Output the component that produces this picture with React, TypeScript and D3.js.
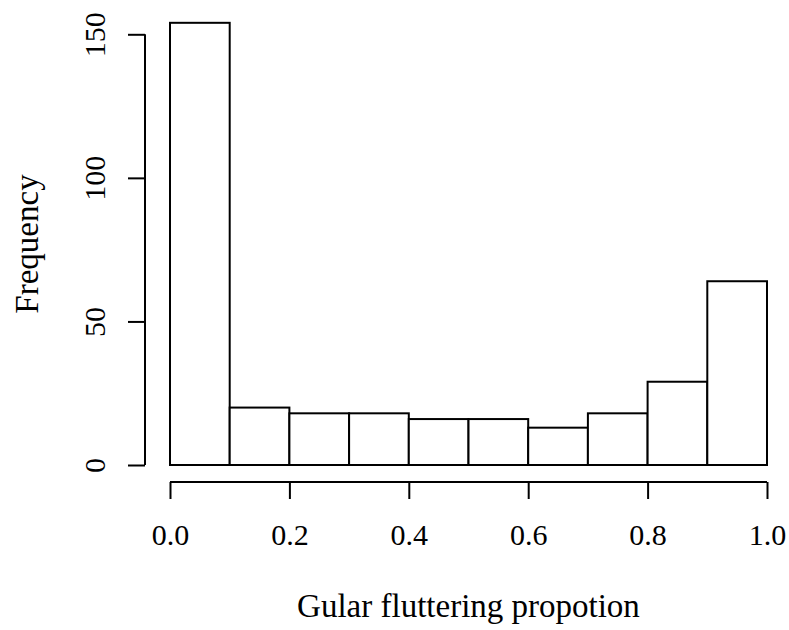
import * as d3 from "d3";
import { useRef, useEffect } from "react";

// histogram bins (left edges) and counts
const binStarts = [0.0, 0.1, 0.2, 0.3, 0.4, 0.5, 0.6, 0.7, 0.8, 0.9];
const counts = [154, 20, 18, 18, 16, 16, 13, 18, 29, 64];
const xTicks = [0.0, 0.2, 0.4, 0.6, 0.8, 1.0];
const yTicks = [0, 50, 100, 150];

const width = 789;
const height = 630;

export default function App() {
  const svgRef = useRef<SVGSVGElement | null>(null);

  useEffect(() => {
    const svg = d3.select(svgRef.current);
    svg.selectAll("*").remove();

    const x = d3.scaleLinear().domain([0, 1]).range([170, 767]);
    const y = d3.scaleLinear().domain([0, 150]).range([465, 34.3]);
    const font = "'Liberation Serif', 'Times New Roman', serif";

    // bars
    svg
      .append("g")
      .selectAll("rect")
      .data(binStarts)
      .join("rect")
      .attr("x", (d) => x(d))
      .attr("y", (d, i) => y(counts[i]))
      .attr("width", (d) => x(d + 0.1) - x(d))
      .attr("height", (d, i) => y(0) - y(counts[i]))
      .attr("fill", "white")
      .attr("stroke", "black")
      .attr("stroke-width", 2);

    // x axis
    const xAxis = svg
      .append("g")
      .attr("transform", "translate(0,482)")
      .call(d3.axisBottom(x).tickValues(xTicks).tickSize(17).tickFormat(d3.format(".1f")));
    xAxis.select(".domain").attr("d", `M${x(0)},0H${x(1)}`).attr("stroke-width", 2);
    xAxis.selectAll(".tick line").attr("stroke-width", 2);
    xAxis
      .selectAll("text")
      .attr("font-family", font)
      .attr("font-size", 30)
      .attr("fill", "black")
      .attr("y", 63)
      .attr("dy", null);

    // y axis
    const yAxis = svg
      .append("g")
      .attr("transform", "translate(145,0)")
      .call(d3.axisLeft(y).tickValues(yTicks).tickSize(17).tickFormat(d3.format("d")));
    yAxis.select(".domain").attr("d", `M0,${y(0)}V${y(150)}`).attr("stroke-width", 2);
    yAxis.selectAll(".tick line").attr("stroke-width", 2);
    yAxis
      .selectAll("text")
      .attr("font-family", font)
      .attr("font-size", 30)
      .attr("fill", "black")
      .attr("x", null)
      .attr("dy", null)
      .attr("text-anchor", "middle")
      .attr("transform", "translate(-40,0) rotate(-90)");

    // axis titles
    svg
      .append("text")
      .attr("x", x(0.5))
      .attr("y", 617)
      .attr("text-anchor", "middle")
      .attr("font-family", font)
      .attr("font-size", 33)
      .text("Gular fluttering propotion");

    svg
      .append("text")
      .attr("transform", "translate(38,244) rotate(-90)")
      .attr("text-anchor", "middle")
      .attr("font-family", font)
      .attr("font-size", 33)
      .text("Frequency");
  }, []);

  return (
    <svg
      ref={svgRef}
      width={width}
      height={height}
      style={{ position: "absolute", left: 0, top: 0, background: "white" }}
    ></svg>
  );
}
